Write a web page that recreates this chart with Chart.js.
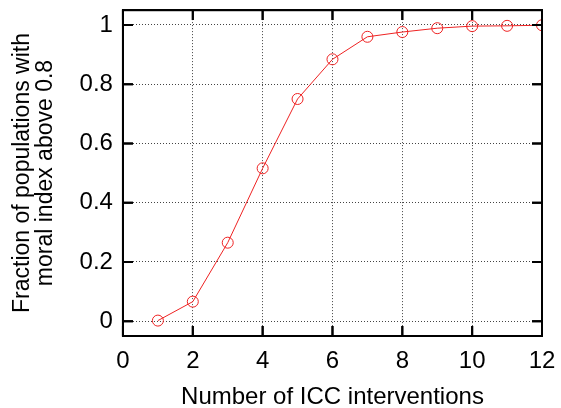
<!DOCTYPE html>
<html>
<head>
<meta charset="utf-8">
<script src="https://cdn.jsdelivr.net/npm/chart.js@4/dist/chart.umd.min.js"></script>
<style>
	html, body { margin: 0; padding: 0; background: #fff; }
	#wrap { width: 561px; height: 408px; position: relative; }
	.axis-title {
		position: absolute;
		font-family: 'Liberation Sans', Arial, Helvetica, sans-serif;
		color: #000;
		text-align: center;
		white-space: nowrap;
	}
	#xtitle { left: 123px; width: 419px; top: 384px; font-size: 24px; line-height: 24px; }
	#ytitle {
		left: -132.5px; width: 330px; top: 149.5px; height: 46px;
		font-size: 23px; line-height: 23px;
		transform: rotate(-90deg); transform-origin: 50% 50%;
	}
</style>
</head>
<body>
<div id="wrap">
	<canvas id="chart"></canvas>
	<div class="axis-title" id="xtitle">Number of ICC interventions</div>
	<div class="axis-title" id="ytitle">Fraction of populations with<br>moral index above 0.8</div>
</div>
<script>
	// interventions (x) and fraction of populations (y)
	const interventions = [1, 2, 3, 4, 5, 6, 7, 8, 9, 10, 11, 12];
	const fraction = [0.002, 0.066, 0.265, 0.516, 0.750, 0.884, 0.960, 0.976, 0.989, 0.996, 0.997, 0.999];
	const xTicks = [0, 2, 4, 6, 8, 10, 12];
	const yTicks = [0, 0.2, 0.4, 0.6, 0.8, 1];

	const FONT = 'Liberation Sans, Arial, Helvetica, sans-serif';
	const RED = 'rgb(238, 34, 34)';

	// gnuplot-style box with inward ticks on all four sides
	function drawFrame(chart) {
		const ctx = chart.ctx;
		const a = chart.chartArea;
		const sx = chart.scales.x, sy = chart.scales.y;
		if (!a || !sx || !sy) return;
		const len = 10;
		ctx.save();
		ctx.setLineDash([]);
		ctx.strokeStyle = '#000';
		ctx.lineWidth = 2;
		ctx.beginPath();
		xTicks.forEach(v => {
			const px = sx.getPixelForValue(v);
			ctx.moveTo(px, a.bottom); ctx.lineTo(px, a.bottom - len);
			ctx.moveTo(px, a.top); ctx.lineTo(px, a.top + len);
		});
		yTicks.forEach(v => {
			const py = sy.getPixelForValue(v);
			ctx.moveTo(a.left, py); ctx.lineTo(a.left + len, py);
			ctx.moveTo(a.right, py); ctx.lineTo(a.right - len, py);
		});
		ctx.stroke();
		ctx.strokeRect(a.left, a.top, a.right - a.left, a.bottom - a.top);
		ctx.restore();
	}

	const framePlugin = {
		id: 'framePlugin',
		afterDraw(chart) { drawFrame(chart); },
	};

	const chart = new Chart(document.getElementById('chart'), {
		type: 'scatter',
		data: {
			datasets: [{
				data: interventions.map((x, i) => ({x: x, y: fraction[i]})),
				showLine: true,
				borderColor: RED,
				borderWidth: 1,
				pointRadius: 5.5,
				pointBackgroundColor: 'rgba(0,0,0,0)',
			}],
		},
		options: {
			responsive: true,
			maintainAspectRatio: false,
			animation: false,
			layout: { padding: { top: 9.5, right: 19, left: 69.6, bottom: 22 } },
			plugins: { legend: { display: false } },
			scales: {
				x: {
					min: 0,
					max: 12,
					grid: { color: '#444', drawTicks: false },
					border: { display: true, color: '#000', width: 2, dash: [1, 2] },
					ticks: {
						stepSize: 2,
						color: '#000',
						padding: 5,
						font: { family: FONT, size: 24, lineHeight: 40 / 24 },
					},
				},
				y: {
					min: -0.05,
					max: 1.05,
					grid: { color: '#444', drawTicks: false },
					border: { display: true, color: '#000', width: 2, dash: [1, 2] },
					ticks: {
						stepSize: 0.2,
						includeBounds: false,
						color: '#000',
						padding: 10,
						font: { family: FONT, size: 24, lineHeight: 0.01 },
						callback: v => String(Math.round(v * 10) / 10),
					},
				},
			},
		},
		plugins: [framePlugin],
	});
	drawFrame(chart);
</script>
</body>
</html>
